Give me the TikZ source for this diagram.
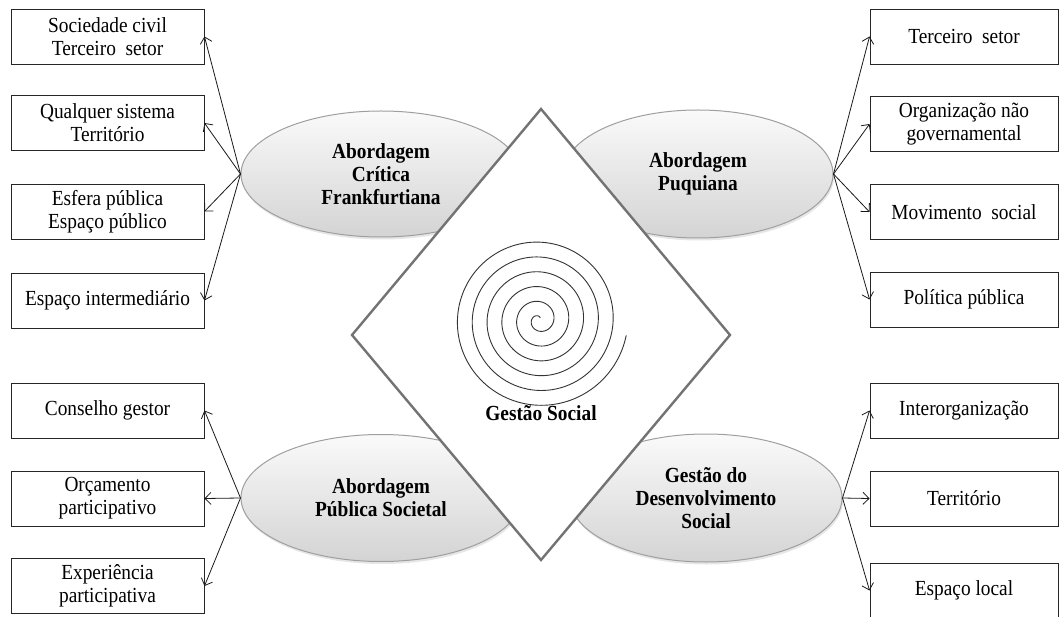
\documentclass[tikz,border=0pt]{standalone}
\usepackage{fontspec}
\setmainfont{Liberation Serif}[FakeStretch=0.9]
\usetikzlibrary{arrows.meta,shapes.geometric,shadows}
\begin{document}
\begin{tikzpicture}[x=1pt,y=-1pt,
  itembox/.style={draw=black!85,line width=0.9pt,fill=white,inner sep=0pt,
    minimum height=55pt,align=center,font=\fontsize{21.5}{23}\selectfont},
  leftbox/.style={itembox,minimum width=193pt},
  rightbox/.style={itembox,minimum width=188pt},
  approach/.style={ellipse,draw=gray!75,line width=1pt,inner sep=0pt,
    top color=gray!4,bottom color=gray!34,align=center,
    font=\bfseries\fontsize{21.5}{23}\selectfont,
    drop shadow={opacity=0.2,shadow xshift=1pt,shadow yshift=-2.5pt}},
  link/.style={line width=0.8pt,draw=black!90,-{Straight Barb[length=6pt,width=12pt]}}
]
\useasboundingbox (0,0) rectangle (1059,617);

% the four approaches
\node[approach,minimum width=280pt,minimum height=126pt] (e1) at (381,174)
  {Abordagem\\Crítica\\Frankfurtiana};
\node[approach,minimum width=270pt,minimum height=128pt] (e2) at (698,174)
  {Abordagem\\Puquiana};
\node[approach,minimum width=280pt,minimum height=127pt] (e3) at (381,498)
  {Abordagem\\Pública Societal};
\node[approach,minimum width=272pt,minimum height=128pt] (e4) at (706,498)
  {Gestão do\\Desenvolvimento\\Social};

% central diamond
\coordinate (dt) at (541,109);
\coordinate (dr) at (730,335);
\coordinate (db) at (541,560);
\coordinate (dl) at (352,335);
\draw[draw=gray!90!black,line width=2.4pt,fill=white,line join=miter]
  (dt) -- (dr) -- (db) -- (dl) -- cycle;

% spiral
\draw[line width=0.9pt,black!80] plot[domain=60:2150,samples=600,smooth,variable=\t]
  ({539+0.0412*\t*cos(\t)},{320-0.0412*\t*sin(\t)});
\node[font=\bfseries\fontsize{21.5}{23}\selectfont] (gs) at (541,413) {Gestão Social};

% left column, upper group
\node[leftbox] (l1) at (107.5,36.5) {Sociedade civil\\Terceiro~ setor};
\node[leftbox] (l2) at (107.5,123)  {Qualquer sistema\\Território};
\node[leftbox] (l3) at (107.5,211.5) {Esfera pública\\Espaço público};
\node[leftbox] (l4) at (107.5,300.5) {Espaço intermediário};

% left column, lower group
\node[leftbox] (l5) at (107.5,410.5) {Conselho gestor};
\node[leftbox] (l6) at (107.5,498.5) {Orçamento\\participativo};
\node[leftbox] (l7) at (107.5,586)   {Experiência\\participativa};

% right column, upper group
\node[rightbox] (r1) at (964,36.5) {Terceiro~ setor};
\node[rightbox] (r2) at (964,124)  {Organização não\\governamental};
\node[rightbox] (r3) at (964,212)  {Movimento~ social};
\node[rightbox] (r4) at (964,299.5) {Política pública};

% right column, lower group
\node[rightbox] (r5) at (964,410.5) {Interorganização};
\node[rightbox] (r6) at (964,498.5) {Território};
\node[rightbox] (r7) at (964,590.5) {Espaço local};

% connectors
\foreach \b in {l1,l2,l3,l4} \draw[link] (e1.west) -- (\b.east);
\foreach \b in {r1,r2,r3,r4} \draw[link] (e2.east) -- (\b.west);
\foreach \b in {l5,l6,l7} \draw[link] (e3.west) -- (\b.east);
\foreach \b in {r5,r6,r7} \draw[link] (e4.east) -- (\b.west);
\end{tikzpicture}
\end{document}
